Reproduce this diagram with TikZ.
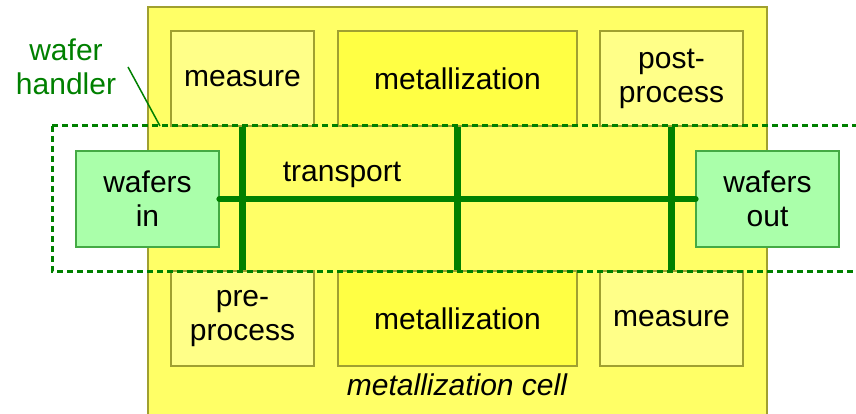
\documentclass[tikz,border=0pt]{standalone}
\usepackage{fontspec}
\setmainfont{Liberation Sans}
\usetikzlibrary{positioning}
\definecolor{cellyellow}{HTML}{FFFF66}
\definecolor{metyellow}{HTML}{FFFF44}
\definecolor{paleyellow}{HTML}{FFFF88}
\definecolor{olive}{HTML}{A0A030}
\definecolor{wafergreen}{HTML}{AAFFAA}
\definecolor{waferedge}{HTML}{44AA44}
\definecolor{handlergreen}{HTML}{008000}

\begin{document}
\begin{tikzpicture}[
         x=1pt, y=-1pt,
         every node/.style={font=\fontsize{30}{34}\selectfont, align=center, inner sep=0pt},
         station/.style={draw=olive, line width=1.2pt, fill=paleyellow, minimum width=143pt, minimum height=95pt},
         metal/.style={station, fill=metyellow, minimum width=239pt},
         wafers/.style={draw=waferedge, line width=1.2pt, fill=wafergreen, minimum width=143pt, minimum height=96pt},
         transport/.style={draw=handlergreen, line width=6.5pt, line cap=round},
         handler/.style={draw=handlergreen, line width=3pt, dash pattern=on 6pt off 4pt}
      ]
         \useasboundingbox (0,0) rectangle (856,414);
         \clip (0,0) rectangle (856,414);

         % Cell background
         \draw[draw=olive, line width=1.2pt, fill=cellyellow] (148,7) rectangle (767,430);

         % Nodes for stations
         \node[station] (measuretop) at (242.5,78.5) {measure};
         \node[metal] (metaltop) at (457.5,78.5) {metallization};
         \node[station] (postproc) at (671.5,78.5) {post-\\process};
         \node[station] (preproc) at (242.5,318.5) {pre-\\process};
         \node[metal] (metalbot) at (457.5,318.5) {metallization};
         \node[station] (measurebot) at (671.5,318.5) {measure};

         % Wafer handler
         \draw[handler] (52,126) rectangle (900,271);
         \node[wafers] (wafersin) at (147.5,199) {wafers\\in};
         \node[wafers] (wafersout) at (767.5,199) {wafers\\out};

         % Transport lines
         \draw[transport] (wafersin.east) -- (wafersout.west);
         \draw[transport, line cap=butt] (measuretop.south) -- (preproc.north);
         \draw[transport, line cap=butt] (metaltop.south) -- (metalbot.north);
         \draw[transport, line cap=butt] (postproc.south) -- (measurebot.north);
         \node (transport) at (342,175) {transport};

         % Labels
         \node[text=handlergreen] (hlabel) at (66,67) {wafer\\handler};
         \coordinate (hstart) at (128,67);
         \coordinate (hend) at (160,126);
         \draw[handlergreen, line width=1.5pt] (hstart) -- (hend);
         \node[font=\fontsize{30}{34}\selectfont\itshape] (celllabel) at (457,385) {metallization cell};
      \end{tikzpicture}
\end{document}
